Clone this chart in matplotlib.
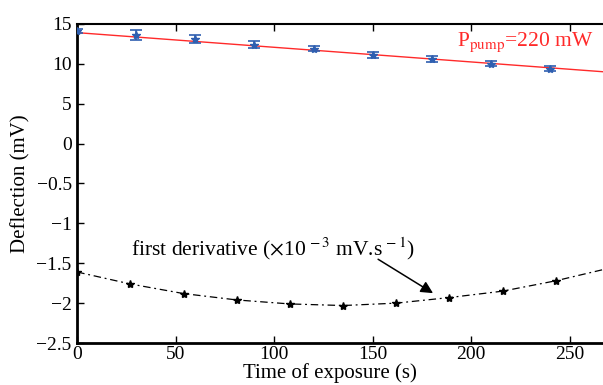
import numpy as np
import matplotlib.pyplot as plt

plt.rcParams['font.family'] = ['Liberation Serif', 'DejaVu Serif']
plt.rcParams['mathtext.fontset'] = 'stix'

# deflection data (mV), blue points with error bars
t_defl = [0, 30, 60, 90, 120, 150, 180, 210, 240]
defl = [14.1, 13.6, 13.1, 12.4, 11.9, 11.1, 10.6, 10.0, 9.4]
defl_err = [0.25, 0.6, 0.5, 0.4, 0.35, 0.35, 0.35, 0.3, 0.35]

# linear fit (red line), end points
t_fit = [0, 267]
v_fit = [13.9, 9.0]

# first derivative (x1e-3 mV/s)
t_der = [0, 27, 54, 81, 108, 135, 162, 189, 216, 243]
der = [-1.61, -1.76, -1.88, -1.96, -2.01, -2.03, -2.00, -1.93, -1.85, -1.72]
t_der_end = 267
der_end = -1.58

# y axis: upper part compressed by 10
ytick_pos = [-2.5, -2, -1.5, -1, -0.5, 0, 0.5, 1.0, 1.5]
ytick_lab = ['\u22122.5', '\u22122', '\u22121.5', '\u22121', '\u22120.5', '0', '5', '10', '15']
scale = 0.1

fig = plt.figure(figsize=(6.03, 3.85), dpi=100)
ax = fig.add_axes([0.128, 0.109, 0.872, 0.829])

ax.plot(t_fit, np.array(v_fit) * scale, color='#ff2a2a', lw=1.0, zorder=2)
ax.errorbar(t_defl, np.array(defl) * scale, yerr=np.array(defl_err) * scale,
            fmt='*', color='#2f5fb0', ms=6, capsize=4, elinewidth=1.2,
            capthick=1.2, zorder=3)

ax.plot(t_der + [t_der_end], der + [der_end], color='black', lw=0.9,
        ls=(0, (6, 3, 1.5, 3)), zorder=2)
ax.plot(t_der, der, '*', color='black', ms=6, zorder=3)

ax.text(193, 1.225, r'P$_{\rm pump}$=220 mW', color='#ff2a2a', fontsize=15.5,
        ha='left', va='baseline')

ax.text(27.4, -1.40, r'first derivative ($\times$10$^{\,-3}$ mV.s$^{\,-1}$)',
        fontsize=15.5, ha='left', va='baseline')
ax.annotate('', xy=(180.7, -1.875), xytext=(152.8, -1.45),
            arrowprops=dict(arrowstyle='-|>', color='black', lw=1.1,
                            mutation_scale=18, shrinkA=0, shrinkB=0))

ax.set_xlim(0, 267)
ax.set_ylim(-2.5, 1.5)
ax.set_xticks([0, 50, 100, 150, 200, 250])
ax.set_yticks(ytick_pos)
ax.set_yticklabels(ytick_lab)
ax.tick_params(direction='in', top=True, right=False, labelsize=14,
               length=5, width=1.0)
ax.tick_params(axis='x', pad=2)
ax.tick_params(axis='y', pad=4)
ax.spines['right'].set_visible(False)
for s in ['left', 'bottom']:
    ax.spines[s].set_linewidth(2.0)
ax.spines['top'].set_linewidth(1.5)

ax.set_xlabel('Time of exposure (s)', fontsize=15)
ax.set_ylabel('Deflection (mV)', fontsize=15)
ax.xaxis.set_label_coords(0.481, -0.063)
ax.xaxis.label.set_va('top')
ax.yaxis.set_label_coords(-0.089, 0.5)

fig.savefig('out.png', dpi=100)
